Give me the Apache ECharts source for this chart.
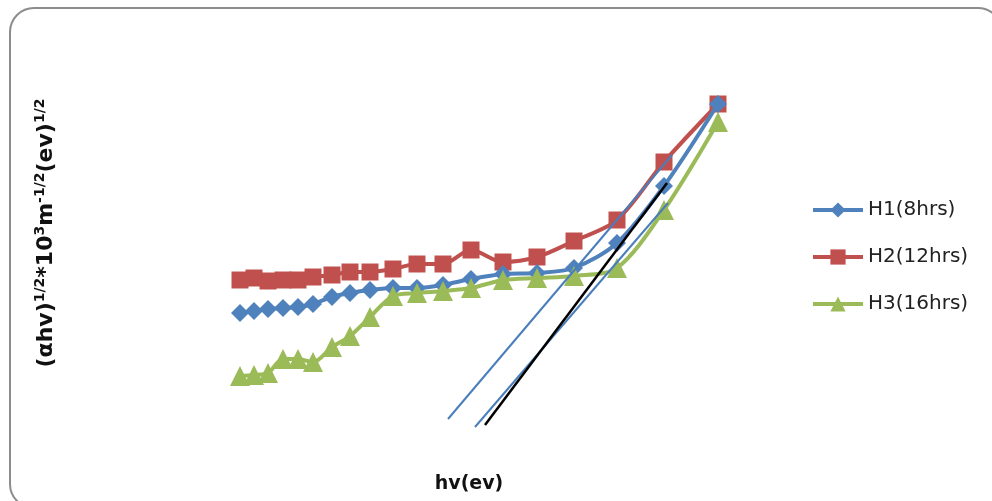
<!DOCTYPE html>
<html>
<head>
<meta charset="utf-8">
<script src="https://cdn.jsdelivr.net/npm/echarts@6/dist/echarts.min.js"></script>
<style>html,body{margin:0;padding:0;background:#fff}#c{width:992px;height:501px}</style>
</head>
<body>
<div id="c"></div>
<script>
// photon energy hv (eV)
var hv = [1.200, 1.270, 1.340, 1.415, 1.490, 1.565, 1.660, 1.750, 1.850, 1.965, 2.085, 2.215, 2.355, 2.515, 2.685, 2.870, 3.085, 3.320, 3.590];
var h1 = [1.37, 1.39, 1.41, 1.42, 1.43, 1.46, 1.53, 1.57, 1.60, 1.62, 1.62, 1.65, 1.71, 1.76, 1.77, 1.82, 2.07, 2.64, 3.46];
var h2 = [1.70, 1.72, 1.69, 1.70, 1.70, 1.73, 1.75, 1.78, 1.78, 1.81, 1.86, 1.86, 2.00, 1.88, 1.93, 2.09, 2.30, 2.88, 3.46];
var h3 = [0.74, 0.75, 0.77, 0.91, 0.91, 0.88, 1.03, 1.14, 1.33, 1.54, 1.57, 1.59, 1.62, 1.70, 1.72, 1.74, 1.82, 2.40, 3.28];
// tangent (extrapolation) lines: [x, y] end points
var fitA = [[2.240, 0.31], [3.360, 2.95]];
var fitC = [[2.375, 0.23], [3.340, 2.47]];
var fitK = [[2.425, 0.25], [3.335, 2.67]];
var names = ['H1(8hrs)', 'H2(12hrs)', 'H3(16hrs)'];

function pairs(xs, ys) { return xs.map(function (x, i) { return [x, ys[i]]; }); }

var chart = echarts.init(document.getElementById('c'));
var font = 'DejaVu Sans';
chart.setOption({
  backgroundColor: '#fff',
  animation: false,
  grid: { left: 200, top: 50, width: 600, height: 400 },
  xAxis: { type: 'value', min: 1, max: 4, show: false },
  yAxis: { type: 'value', min: 0, max: 4, show: false },
  legend: {
    orient: 'vertical', left: 806, top: 195, itemGap: 27,
    itemWidth: 50, itemHeight: 19,
    lineStyle: { width: 4 },
    textStyle: { fontFamily: font, fontSize: 20, color: '#222' },
    data: names
  },
  graphic: [
    { type: 'rect', shape: { x: 10, y: 8, width: 992, height: 500, r: 24 },
      style: { fill: 'none', stroke: '#8c8c8c', lineWidth: 2 }, silent: true, z: -1 },
    { type: 'text', x: 469, y: 484, style: { text: 'hv(ev)', fontFamily: font, fontWeight: 'bold', fontSize: 19, fill: '#111', align: 'center', verticalAlign: 'middle' } },
    { type: 'text', x: 45, y: 233, rotation: Math.PI / 2,
      style: {
        text: '{b|(αhv)}{s|1/2}{b|*10}{s|3}{b|m}{s|-1/2}{b|(ev)}{s|1/2}',
        align: 'center', verticalAlign: 'middle',
        rich: {
          b: { fontFamily: font, fontWeight: 'bold', fontSize: 22, fill: '#111', verticalAlign: 'bottom', lineHeight: 24 },
          s: { fontFamily: font, fontWeight: 'bold', fontSize: 14, fill: '#111', verticalAlign: 'top', lineHeight: 24, padding: [0, 0, 10, 0] }
        }
      } }
  ],
  series: [
    { name: 'fitA', type: 'line', data: fitA, symbol: 'none', lineStyle: { color: '#4a7ebb', width: 2 }, z: 5 },
    { name: 'fitC', type: 'line', data: fitC, symbol: 'none', lineStyle: { color: '#4a7ebb', width: 2 }, z: 5 },
    { name: 'fitK', type: 'line', data: fitK, symbol: 'none', lineStyle: { color: '#000', width: 2.5 }, z: 5 },
    { name: names[0], type: 'line', data: pairs(hv, h1), smooth: 0.3, symbol: 'diamond', symbolSize: 18,
      itemStyle: { color: '#4F81BD' }, lineStyle: { color: '#4F81BD', width: 4 }, z: 3 },
    { name: names[1], type: 'line', data: pairs(hv, h2), smooth: 0.3, symbol: 'rect', symbolSize: 17,
      itemStyle: { color: '#C0504D' }, lineStyle: { color: '#C0504D', width: 4 }, z: 2 },
    { name: names[2], type: 'line', data: pairs(hv, h3), smooth: 0.3, symbol: 'triangle', symbolSize: 20,
      itemStyle: { color: '#9BBB59' }, lineStyle: { color: '#9BBB59', width: 4 }, z: 4 }
  ]
});
</script>
</body>
</html>
